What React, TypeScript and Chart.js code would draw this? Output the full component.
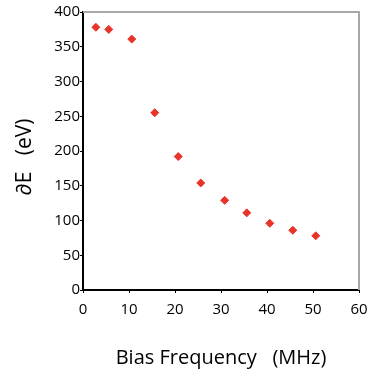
import React, { useEffect, useRef } from "react";
import { Chart, registerables } from "chart.js";

Chart.register(...registerables);

const frequencies = [2.8, 5.6, 10.6, 15.6, 20.7, 25.6, 30.8, 35.6, 40.6, 45.6, 50.6];
const energies = [378, 375, 361, 255, 192, 154, 129, 111, 96, 86, 78];
const xTitle = "Bias Frequency   (MHz)";
const yTitle = "\u2202E   (eV)";

const FONT = "'Open Sans', 'Noto Sans', sans-serif";

export default function App() {
  const ref = useRef<HTMLCanvasElement | null>(null);

  useEffect(() => {
    if (!ref.current) return;
    const frame = {
      id: "frame",
      afterDraw(chart: any) {
        const { ctx, chartArea } = chart;
        ctx.save();
        ctx.strokeStyle = "#a8a8a8";
        ctx.lineWidth = 2;
        ctx.beginPath();
        ctx.moveTo(chartArea.left, chartArea.top);
        ctx.lineTo(chartArea.right, chartArea.top);
        ctx.lineTo(chartArea.right, chartArea.bottom);
        ctx.stroke();
        ctx.translate(25, 157);
        ctx.rotate(-Math.PI / 2);
        ctx.fillStyle = "#000";
        ctx.font = `21px ${FONT}`;
        ctx.textAlign = "center";
        ctx.textBaseline = "middle";
        ctx.fillText(yTitle, 0, 0);
        ctx.restore();
      },
    };
    const chart = new Chart(ref.current, {
      type: "scatter",
      data: {
        datasets: [
          {
            data: frequencies.map((f, i) => ({ x: f, y: energies[i] })),
            backgroundColor: "#e8332a",
            borderColor: "#e8332a",
            pointStyle: "rectRot",
            pointRadius: 4,
            pointHoverRadius: 4,
          },
        ],
      },
      options: {
        animation: false,
        responsive: false,
        layout: { padding: { top: 12, right: 10, left: 0, bottom: 0 } },
        plugins: { legend: { display: false }, tooltip: { enabled: false } },
        scales: {
          x: {
            type: "linear",
            min: 0,
            max: 60,
            ticks: { stepSize: 10, color: "#000", font: { family: FONT, size: 15 }, padding: 8 },
            grid: { display: true, drawOnChartArea: false, drawTicks: true, tickLength: 3, color: "#000" },
            border: { display: true, color: "#000", width: 2 },
            title: { display: true, text: xTitle, color: "#000", font: { family: FONT, size: 20 }, padding: { top: 0, bottom: 0 } },
            afterFit(scale: any) {
              scale.height = 80;
              scale.paddingLeft = 0;
              scale.paddingRight = 0;
            },
          },
          y: {
            min: 0,
            max: 400,
            ticks: { stepSize: 50, color: "#000", font: { family: FONT, size: 15 }, padding: 0 },
            grid: { display: true, drawOnChartArea: false, drawTicks: true, tickLength: 3, color: "#000" },
            border: { display: true, color: "#000", width: 2 },
            afterFit(scale: any) {
              scale.width = 83;
              scale.paddingTop = 0;
              scale.paddingBottom = 0;
            },
          },
        },
      },
      plugins: [frame],
    } as any);
    return () => chart.destroy();
  }, []);

  return (
    <div style={{ position: "fixed", left: 0, top: 0, width: 369, height: 370, background: "#fff" }}>
      <canvas ref={ref} width={369} height={370} style={{ display: "block" }} />
    </div>
  );
}
